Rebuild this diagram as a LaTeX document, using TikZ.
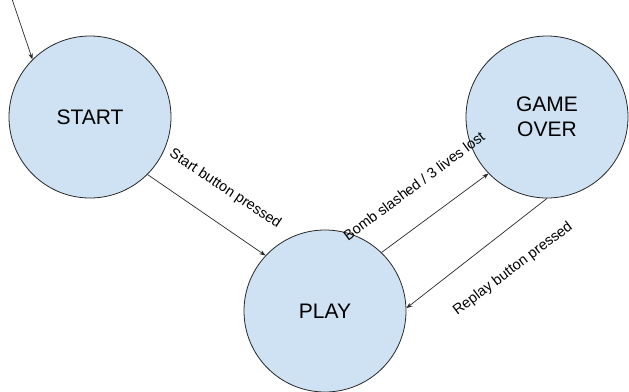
\documentclass[tikz,border=0pt]{standalone}
\usepackage{fontspec}
\setmainfont{Liberation Sans}
\usetikzlibrary{arrows.meta}
\definecolor{statefill}{RGB}{207,226,243}
\definecolor{edgeline}{RGB}{40,40,40}
\begin{document}
\begin{tikzpicture}[x=1pt,y=1pt]
 \tikzset{state/.style={
    circle, draw=edgeline, line width=0.8pt,
    fill=statefill,
    minimum size=#1,
    inner sep=0pt,
    align=center,
    font=\fontsize{21}{25}\selectfont
  },
  state/.default=162pt,
  trans/.style={draw=edgeline, line width=0.7pt,
    -{Stealth[length=6pt,width=4.5pt]}},
  translabel/.style={font=\fontsize{14.5}{17}\selectfont, inner sep=0pt}
}
\useasboundingbox (0,0) rectangle (629,-391);
\node[state] (start) at (90,-117) {START};
\node[state] (play) at (325,-311) {PLAY};
\node[state] (over) at (547,-117) {GAME\\OVER};
\coordinate (init) at (12,1);
% transitions
\draw[trans] (init) -- (start.135);
\draw[trans] (start.-45) -- (play.137);
\draw[trans] (play.46) -- (over.224);
\draw[trans] (over.270) -- (play.2);
% labels
\node[translabel, rotate=-33.6] (lstart) at (225,-189) {Start button pressed};
\node[translabel, rotate=36.6] (lbomb) at (414,-186) {Bomb slashed / 3 lives lost};
\node[translabel, rotate=37] (lreplay) at (513,-269) {Replay button pressed};
\end{tikzpicture}
\end{document}
